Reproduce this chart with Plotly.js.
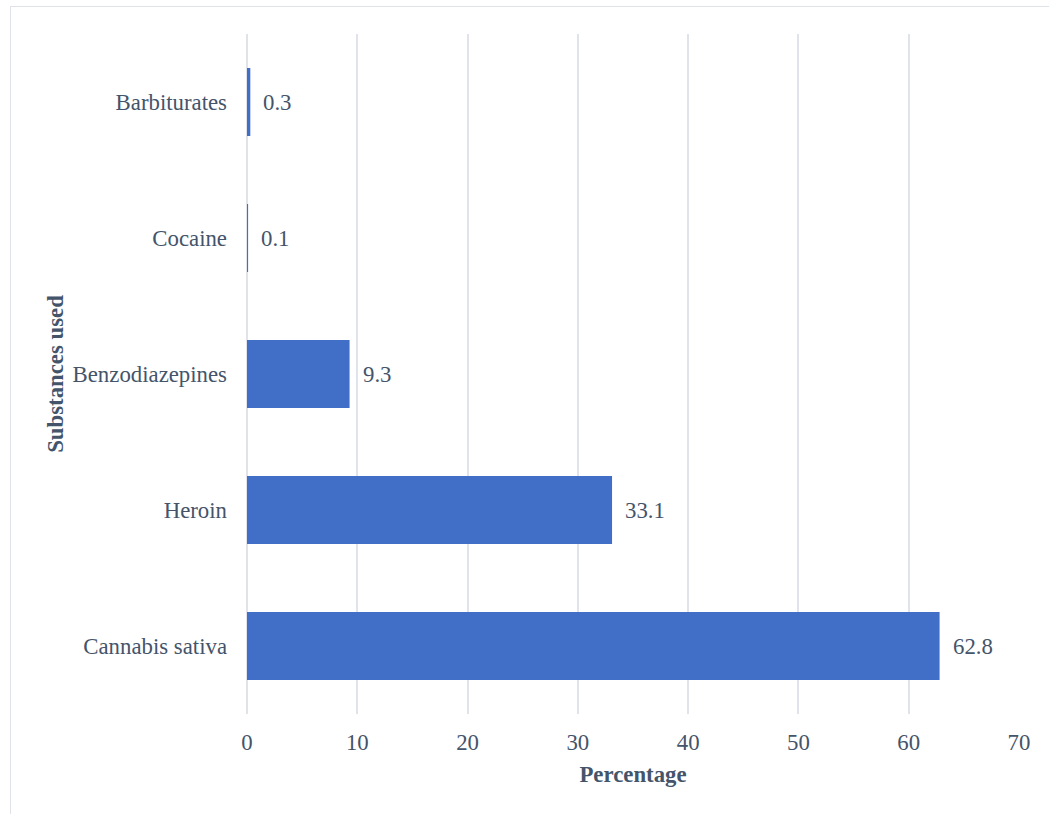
<!DOCTYPE html>
<html>
<head>
<meta charset="utf-8">
<script src="https://cdn.plot.ly/plotly-3.0.1.min.js"></script>
<style>
  html, body { margin: 0; padding: 0; background: #fff; }
  #frame { position: absolute; left: 10px; top: 6px; width: 1060px; height: 830px; border: 1.5px solid #dfe3e8; pointer-events: none; z-index: 5; }
  #chart { position: absolute; left: 0; top: 0; width: 1049px; height: 814px; }
</style>
</head>
<body>
<div id="chart"></div>
<div id="frame"></div>
<script>
const categories = ["Cannabis sativa", "Heroin", "Benzodiazepines", "Cocaine", "Barbiturates"];
const values = [62.8, 33.1, 9.3, 0.1, 0.3];
const xTicks = [0, 10, 20, 30, 40, 50, 60, 70];

const textColor = "#44546a";
const fontFamily = "Liberation Serif, Times New Roman, serif";
const fs = 22.8;

const trace = {
  type: "bar",
  orientation: "h",
  y: categories,
  x: values,
  width: 0.5,
  marker: { color: "#416fc8", line: { width: 0 } },
  hoverinfo: "skip"
};

const annotations = values.map((v, i) => ({
  x: v, y: categories[i], xref: "x", yref: "y",
  text: String(v), showarrow: false, xanchor: "left", yanchor: "middle",
  xshift: 11, font: { family: fontFamily, size: fs, color: textColor }
}));

const layout = {
  width: 1049, height: 814,
  margin: { l: 247, r: 30, t: 34, b: 100 },
  paper_bgcolor: "rgba(0,0,0,0)",
  plot_bgcolor: "rgba(0,0,0,0)",
  showlegend: false,
  font: { family: fontFamily, size: fs, color: textColor },
  bargap: 0.5,
  xaxis: {
    range: [0, 70],
    tickvals: xTicks,
    ticktext: xTicks.map(String),
    showgrid: true, gridcolor: "#e0e4ea", gridwidth: 2,
    zeroline: true, zerolinecolor: "#e0e4ea", zerolinewidth: 2,
    showline: false,
    ticks: "", ticklabelstandoff: 12,
    tickfont: { family: fontFamily, size: fs, color: textColor },
    title: { text: "<b>Percentage</b>", standoff: 12, font: { family: fontFamily, size: fs, color: textColor } }
  },
  yaxis: {
    type: "category",
    categoryorder: "array", categoryarray: categories,
    range: [-0.5, 4.5],
    showgrid: false, zeroline: false, showline: false,
    ticks: "", ticklabelstandoff: 19,
    tickfont: { family: fontFamily, size: fs, color: textColor },
    title: { text: "<b>Substances used</b>", standoff: 2, font: { family: fontFamily, size: fs, color: textColor } }
  },
  annotations: annotations
};

Plotly.newPlot("chart", [trace], layout, { displayModeBar: false, staticPlot: true });
</script>
</body>
</html>
